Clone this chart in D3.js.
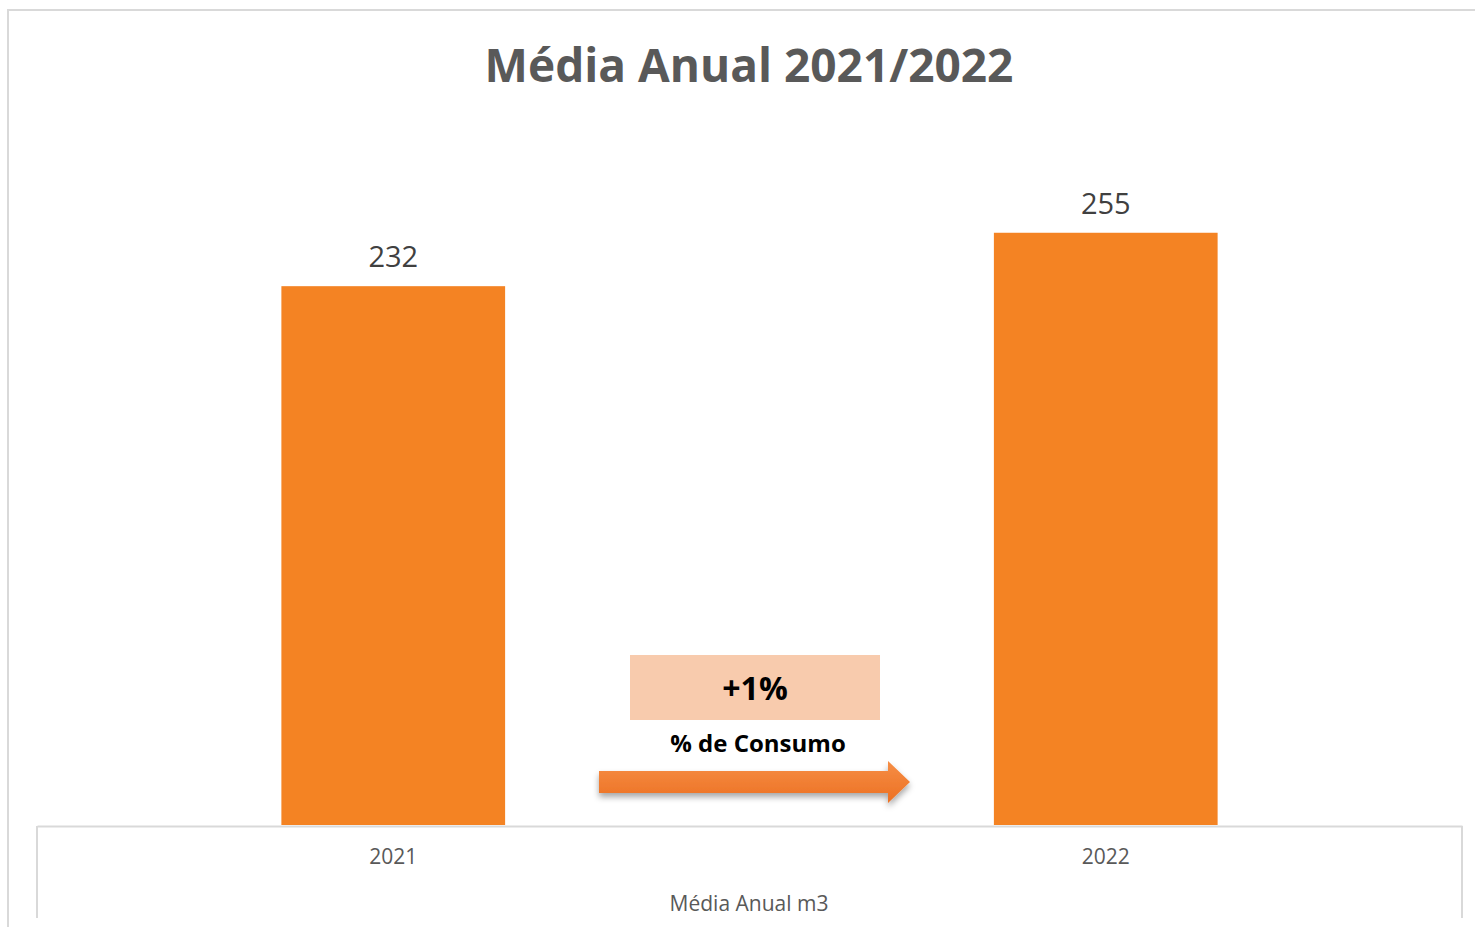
<!DOCTYPE html>
<html><head><meta charset="utf-8">
<script src="https://cdn.jsdelivr.net/npm/d3@7"></script>
<style>html,body{margin:0;padding:0;background:#fff;overflow:hidden}</style>
</head><body>
<svg id="c" width="1475" height="927"></svg>
<script>
const title = "Média Anual 2021/2022";
const categories = ["2021", "2022"];
const values = [232, 255];
const axisTitle = "Média Anual m3";
const changeLabel = "+1%";
const changeCaption = "% de Consumo";

const svg = d3.select("#c");
const W = 1475, H = 927;
const left = 37, right = 1462, base = 825;

const defs = svg.append("defs");
const grad = defs.append("linearGradient").attr("id","ag").attr("x1",0).attr("y1",0).attr("x2",0).attr("y2",1);
grad.append("stop").attr("offset","0%").attr("stop-color","#f68e45");
grad.append("stop").attr("offset","100%").attr("stop-color","#ec7022");
const f = defs.append("filter").attr("id","sh").attr("x","-10%").attr("y","-50%").attr("width","130%").attr("height","220%");
f.append("feDropShadow").attr("dx",0).attr("dy",4).attr("stdDeviation",3).attr("flood-color","#000").attr("flood-opacity",0.35);

// outer frame
svg.append("path").attr("d",`M8,927 V10 H1475`).attr("fill","none").attr("stroke","#d9d9d9").attr("stroke-width",2);

const x = d3.scaleBand().domain(categories).range([left, right]).paddingInner(0.686).paddingOuter(0.343);
const y = d3.scaleLinear().domain([0, 300]).range([base, base - 300 * 2.3225]);

svg.append("text").attr("x", 749).attr("y", 82).attr("text-anchor","middle")
  .attr("font-family","'Open Sans'").attr("font-weight",700).attr("font-size",46)
  .attr("fill","#595959").text(title);

svg.selectAll("rect.bar").data(values).join("rect").attr("class","bar")
  .attr("x",(d,i)=>x(categories[i])).attr("width",x.bandwidth())
  .attr("y",d=>y(d)).attr("height",d=>y(0)-y(d)).attr("fill","#f48323");

svg.selectAll("text.val").data(values).join("text").attr("class","val")
  .attr("x",(d,i)=>x(categories[i])+x.bandwidth()/2).attr("y",d=>y(d)-19)
  .attr("text-anchor","middle").attr("font-family","'Open Sans'").attr("font-size",29)
  .attr("fill","#404040").text(d=>d);

// axis
const ax = svg.append("g").attr("transform",`translate(0,${base+1})`)
  .call(d3.axisBottom(x).tickSize(0).tickPadding(23));
ax.select(".domain").attr("stroke","#d9d9d9").attr("stroke-width",2);
ax.selectAll("text").attr("font-family","'Open Sans'").attr("font-size",21).attr("fill","#595959").attr("dy","0.71em");
svg.append("path").attr("d",`M${left},${base+1} V918 M${right},${base+1} V918`).attr("stroke","#d9d9d9").attr("stroke-width",2).attr("fill","none");

svg.append("text").attr("x",749).attr("y",911).attr("text-anchor","middle")
  .attr("font-family","'Open Sans'").attr("font-size",21).attr("fill","#595959").text(axisTitle);

// annotation
svg.append("rect").attr("x",630).attr("y",655).attr("width",250).attr("height",65).attr("fill","#f8cbad");
svg.append("text").attr("x",755).attr("y",700).attr("text-anchor","middle")
  .attr("font-family","'Open Sans'").attr("font-weight",700).attr("font-size",32).attr("fill","#000").text(changeLabel);
svg.append("text").attr("x",758).attr("y",752).attr("text-anchor","middle")
  .attr("font-family","'Open Sans'").attr("font-weight",700).attr("font-size",24).attr("fill","#000").text(changeCaption);

svg.append("path").attr("d","M599,771 H888 V761 L910,782 L888,803 V793 H599 Z")
  .attr("fill","url(#ag)").attr("filter","url(#sh)");
</script>
</body></html>
